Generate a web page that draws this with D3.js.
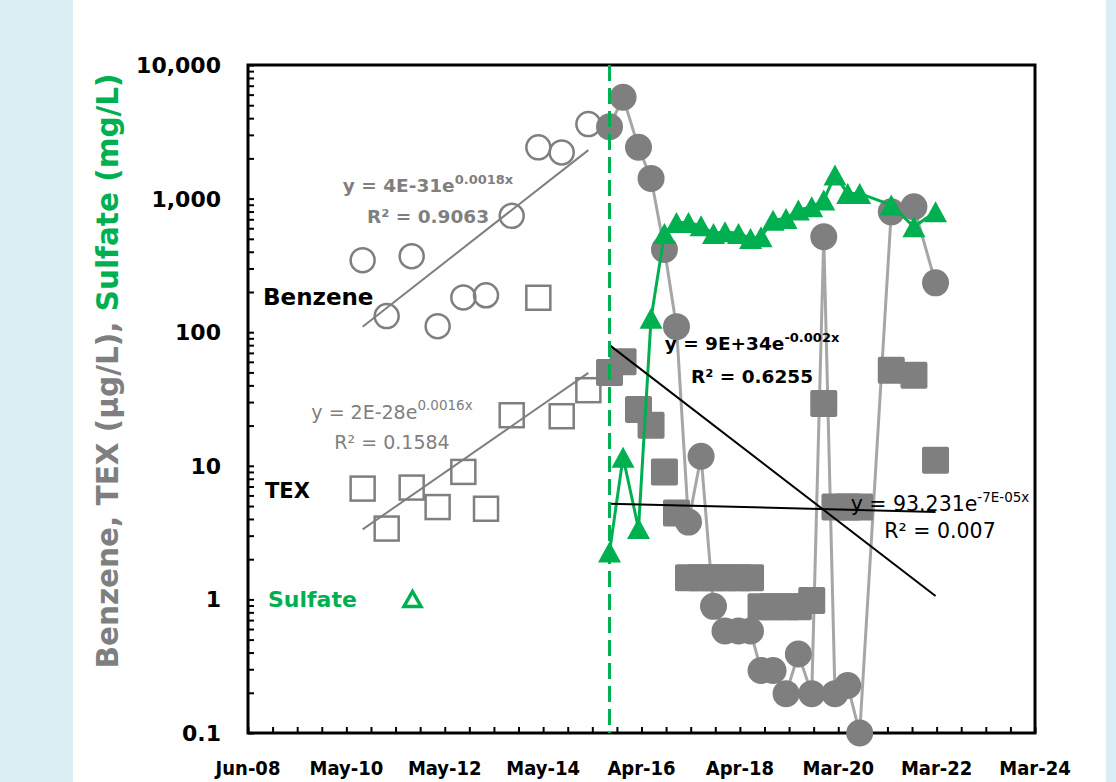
<!DOCTYPE html>
<html><head><meta charset="utf-8">
<script src="https://cdn.jsdelivr.net/npm/d3@7"></script>
<style>
html,body{margin:0;padding:0;background:#dbeef4;}
svg{display:block;}
text{font-family:"DejaVu Sans",sans-serif;}
</style></head>
<body>
<svg id="chart" width="1116" height="782"></svg>
<script>
// ---------------- DATA ----------------
const preDates = ["2010-09-18","2011-03-13","2011-09-12","2012-03-20","2012-09-24","2013-03-09","2013-09-13","2014-03-27","2014-09-14","2015-03-28"];
const benzenePre = [346, 132, 371, 111, 182, 189, 743, 2418, 2218, 3614];
const texPre = [6.75, 3.39, 6.87, 4.91, 9.0, 4.77, 23.9, 181, 23.5, 36.8];

const postDates = ["2015-08-30","2015-12-07","2016-03-29","2016-06-29","2016-10-05","2017-01-01","2017-03-30","2017-06-30","2017-09-29","2017-12-22","2018-03-31","2018-06-27","2018-09-12","2018-12-09","2019-03-14","2019-06-12","2019-09-18","2019-12-15","2020-03-06","2020-06-07","2020-09-03","2021-04-22","2021-10-05","2022-03-12"];
const benzenePost = [3450, 5730, 2420, 1417, 416, 110, 3.79, 11.8, 0.887, 0.58, 0.58, 0.58, 0.294, 0.294, 0.197, 0.39, 0.197, 518, 0.197, 0.227, 0.1, 796, 868, 234];
const texPost = [50, 60, 26.4, 20.1, 9.0, 4.43, 1.45, 1.45, 1.45, 1.45, 1.45, 1.45, 0.88, 0.88, 0.88, 0.88, 0.98, 29.2, 4.92, 4.92, 4.92, 51.9, 47.6, 11.0];
const sulfatePost = [2.26, 11.6, 3.39, 127, 548, 663, 663, 626, 548, 564, 548, 503, 518, 690, 711, 820, 868, 975, 1500, 1094, 1094, 894, 615, 797];

const treatmentDate = "2015-08-30";

// trendline values at first / last date of their period
const benzenePreTrend = [110, 2307];
const texPreTrend = [3.34, 49.6];
const postTrendSteep = [80, 1.06];
const postTrendFlat = [5.21, 4.51];

const xDomain = ["2008-06-01", "2024-03-09"];
const xTickDates = ["2008-06-01","2010-05-22","2012-05-11","2014-05-01","2016-04-20","2018-04-10","2020-03-30","2022-03-20","2024-03-09"];
const xTickLabels = ["Jun-08","May-10","May-12","May-14","Apr-16","Apr-18","Mar-20","Mar-22","Mar-24"];
const yTickValues = [0.1, 1, 10, 100, 1000, 10000];
const yTickLabels = ["0.1", "1", "10", "100", "1,000", "10,000"];

// ---------------- CHART ----------------
const parse = d3.utcParse("%Y-%m-%d");
const svg = d3.select("#chart");
const W = 1116, H = 782;
const L = 248, T = 65, R = 1035, B = 733;
const GREY = "#7f7f7f", LGREY = "#a6a6a6", GREEN = "#00b050";

svg.append("rect").attr("x", 73).attr("y", 0).attr("width", 1033).attr("height", H).attr("fill", "#ffffff");

const x = d3.scaleUtc().domain(xDomain.map(parse)).range([L, R]);
const y = d3.scaleLog().domain([0.1, 10000]).range([B, T]);

// minor ticks
const x0 = parse(xDomain[0]);
const xMinor = d3.range(0, 33).map(i => d3.utcDay.offset(x0, 180 * i));
const yMinor = [];
[0.1, 1, 10, 100, 1000].forEach(dec => { for (let k = 1; k <= 9; k++) yMinor.push(dec * k); });
yMinor.push(10000);

const gx = svg.append("g").attr("transform", `translate(0,${B})`)
  .call(d3.axisBottom(x).tickValues(xMinor).tickSize(-6).tickFormat(""));
const gy = svg.append("g").attr("transform", `translate(${L},0)`)
  .call(d3.axisLeft(y).tickValues(yMinor).tickSize(-6).tickFormat(""));
[gx, gy].forEach(g => { g.select(".domain").remove(); g.selectAll("line").attr("stroke", "#000").attr("stroke-width", 2); });

// frame
svg.append("rect").attr("x", L).attr("y", T).attr("width", R - L).attr("height", B - T)
  .attr("fill", "none").attr("stroke", "#000").attr("stroke-width", 3);

// tick labels
svg.append("g").selectAll("text").data(xTickDates).join("text")
  .attr("x", d => x(parse(d))).attr("y", 775).attr("text-anchor", "middle")
  .style("font-family", "'DejaVu Sans Condensed','DejaVu Sans',sans-serif")
  .attr("font-size", 20).attr("font-weight", "bold").attr("fill", "#000")
  .text((d, i) => xTickLabels[i]);
svg.append("g").selectAll("text").data(yTickValues).join("text")
  .attr("x", 221).attr("y", d => y(d) + 8).attr("text-anchor", "end")
  .attr("font-size", 22).attr("font-weight", "bold").attr("fill", "#000")
  .text((d, i) => yTickLabels[i]);

// y axis title
const yt = svg.append("text").attr("transform", "translate(118,371) rotate(-90)")
  .attr("text-anchor", "middle").attr("font-size", 29.5).attr("font-weight", "bold");
yt.append("tspan").attr("fill", GREY).text("Benzene, TEX (µg/L), ");
yt.append("tspan").attr("fill", GREEN).text("Sulfate (mg/L)");

// series
const pre = preDates.map(parse), post = postDates.map(parse);
const plot = svg.append("g");

// pre trendlines
const trend = (dates, vals, color) => plot.append("line")
  .attr("x1", x(dates[0])).attr("y1", y(vals[0]))
  .attr("x2", x(dates[dates.length - 1])).attr("y2", y(vals[1]))
  .attr("stroke", color).attr("stroke-width", 2);
trend(pre, benzenePreTrend, GREY);
trend(pre, texPreTrend, GREY);

// pre markers (open)
plot.append("g").selectAll("circle").data(benzenePre).join("circle")
  .attr("cx", (d, i) => x(pre[i])).attr("cy", d => y(d)).attr("r", 12)
  .attr("fill", "none").attr("stroke", GREY).attr("stroke-width", 2.5);
plot.append("g").selectAll("rect").data(texPre).join("rect")
  .attr("x", (d, i) => x(pre[i]) - 12).attr("y", d => y(d) - 12).attr("width", 24).attr("height", 24)
  .attr("fill", "none").attr("stroke", GREY).attr("stroke-width", 2.5);

// benzene post
plot.append("path").datum(benzenePost)
  .attr("d", d3.line().x((d, i) => x(post[i])).y(d => y(d)))
  .attr("fill", "none").attr("stroke", LGREY).attr("stroke-width", 3);
plot.append("g").selectAll("circle").data(benzenePost).join("circle")
  .attr("cx", (d, i) => x(post[i])).attr("cy", d => y(d)).attr("r", 13.5).attr("fill", GREY);

// TEX post
plot.append("g").selectAll("rect").data(texPost).join("rect")
  .attr("x", (d, i) => x(post[i]) - 13.5).attr("y", d => y(d) - 13.5).attr("width", 27).attr("height", 27)
  .attr("rx", 2).attr("fill", GREY);

// sulfate
plot.append("path").datum(sulfatePost)
  .attr("d", d3.line().x((d, i) => x(post[i])).y(d => y(d)))
  .attr("fill", "none").attr("stroke", GREEN).attr("stroke-width", 3);
const tri = (cx, cy, w, h) => `M${cx},${cy - h / 2}L${cx + w / 2},${cy + h / 2}L${cx - w / 2},${cy + h / 2}Z`;
plot.append("g").selectAll("path").data(sulfatePost).join("path")
  .attr("d", (d, i) => tri(x(post[i]), y(d), 23, 21)).attr("fill", GREEN);

// post trendlines
trend(post, postTrendSteep, "#000");
trend(post, postTrendFlat, "#000");

// treatment dashed line
svg.append("line").attr("x1", x(parse(treatmentDate))).attr("x2", x(parse(treatmentDate)))
  .attr("y1", T).attr("y2", B).attr("stroke", GREEN).attr("stroke-width", 3).attr("stroke-dasharray", "16,7");

// labels
const lab = (tx, ty, txt, size, color) => svg.append("text").attr("x", tx).attr("y", ty)
  .attr("font-size", size).attr("font-weight", "bold").attr("fill", color).text(txt);
lab(263, 305, "Benzene", 23, "#000");
lab(265, 498, "TEX", 21, "#000");
lab(268, 607, "Sulfate", 22, GREEN);
svg.append("path").attr("d", tri(412.5, 599, 17, 15)).attr("fill", "none")
  .attr("stroke", GREEN).attr("stroke-width", 3.5).attr("stroke-linejoin", "miter");

// equations
function eq(cx, by1, by2, main, sup, r2, size, supSize, weight, color) {
  const t = svg.append("text").attr("x", cx).attr("y", by1).attr("text-anchor", "middle")
    .attr("font-size", size).attr("font-weight", weight).attr("fill", color);
  t.append("tspan").text(main);
  t.append("tspan").attr("dy", -size * 0.45).attr("font-size", supSize).text(sup);
  svg.append("text").attr("x", cx).attr("y", by2).attr("text-anchor", "middle")
    .attr("font-size", size).attr("font-weight", weight).attr("fill", color).text(r2);
}
eq(428, 192, 223, "y = 4E-31e", "0.0018x", "R² = 0.9063", 18.5, 13, "bold", GREY);
eq(392, 419, 449, "y = 2E-28e", "0.0016x", "R² = 0.1584", 19, 13.5, "normal", GREY);
eq(752, 350, 383, "y = 9E+34e", "-0.002x", "R² = 0.6255", 18.5, 13, "bold", "#000");
eq(940, 511, 538, "y = 93.231e", "-7E-05x", "R² = 0.007", 20.5, 13.5, "normal", "#000");
</script>
</body></html>
